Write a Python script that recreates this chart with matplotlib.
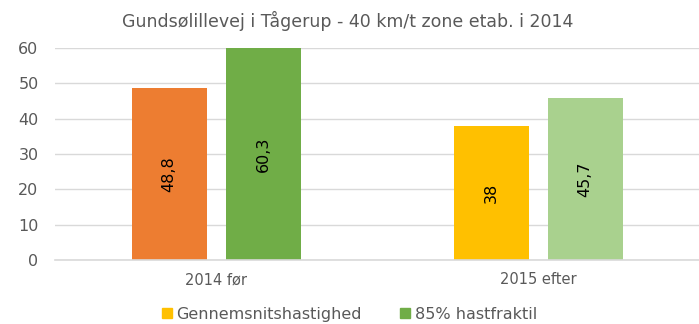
import numpy as np
import matplotlib.pyplot as plt
from matplotlib.patches import Patch

# Hastigheder før og efter etablering af 40 km/t zone
kategorier = ['2014 før', '2015 efter']
gennemsnit = [48.8, 38.0]
fraktil85 = [60.3, 45.7]
farver_gns = ['#ED7D31', '#FFC000']
farver_85 = ['#70AD47', '#A9D18E']

TITEL = 'Gundsølillevej i Tågerup - 40 km/t zone etab. i 2014'
GRAA = '#595959'

plt.rcParams['font.family'] = ['DejaVu Sans']

fig = plt.figure(figsize=(6.99, 3.24), dpi=100)
ax = fig.add_axes([0.079, 0.198, 0.921, 0.654])

x = np.arange(len(kategorier))
bredde = 0.233
afst = 0.146

b1 = ax.bar(x - afst, gennemsnit, bredde, color=farver_gns, zorder=2)
b2 = ax.bar(x + afst, fraktil85, bredde, color=farver_85, zorder=2)

# Værdier skrevet lodret midt i søjlerne
for bars, vals in [(b1, gennemsnit), (b2, fraktil85)]:
    for b, v in zip(bars, vals):
        tekst = f'{v:g}'.replace('.', ',')
        h = min(v, 60)
        ax.text(b.get_x() + b.get_width() / 2, h / 2, tekst, rotation=90,
                ha='center', va='center', fontsize=11.5, color='black', zorder=3)

ax.set_xlim(-0.5, 1.5)
ax.set_ylim(0, 60)
ax.set_yticks(range(0, 61, 10))
ax.set_xticks(x)
ax.set_xticklabels(kategorier)
ax.tick_params(axis='both', length=0, colors=GRAA, labelsize=11.5)
ax.tick_params(axis='x', pad=9, labelsize=10.5)
ax.tick_params(axis='y', pad=12)
ax.yaxis.grid(True, color='#D9D9D9', linewidth=1, zorder=0)
for s in ['top', 'right', 'left']:
    ax.spines[s].set_visible(False)
ax.spines['bottom'].set_color('#D9D9D9')
ax.spines['bottom'].set_linewidth(1.2)

fig.text(0.498, 0.935, TITEL, ha='center', va='center', fontsize=12.5, color=GRAA)

handles = [Patch(color='#FFC000'), Patch(color='#70AD47')]
fig.legend(handles, ['Gennemsnitshastighed', '85% hastfraktil'], loc='center',
           bbox_to_anchor=(0.5, 0.03), ncol=2, frameon=False, fontsize=11.5,
           handlelength=0.6, handleheight=0.6, handletextpad=0.3, columnspacing=2.4,
           labelcolor=GRAA, borderpad=0)

fig.savefig('out.png', dpi=100)
